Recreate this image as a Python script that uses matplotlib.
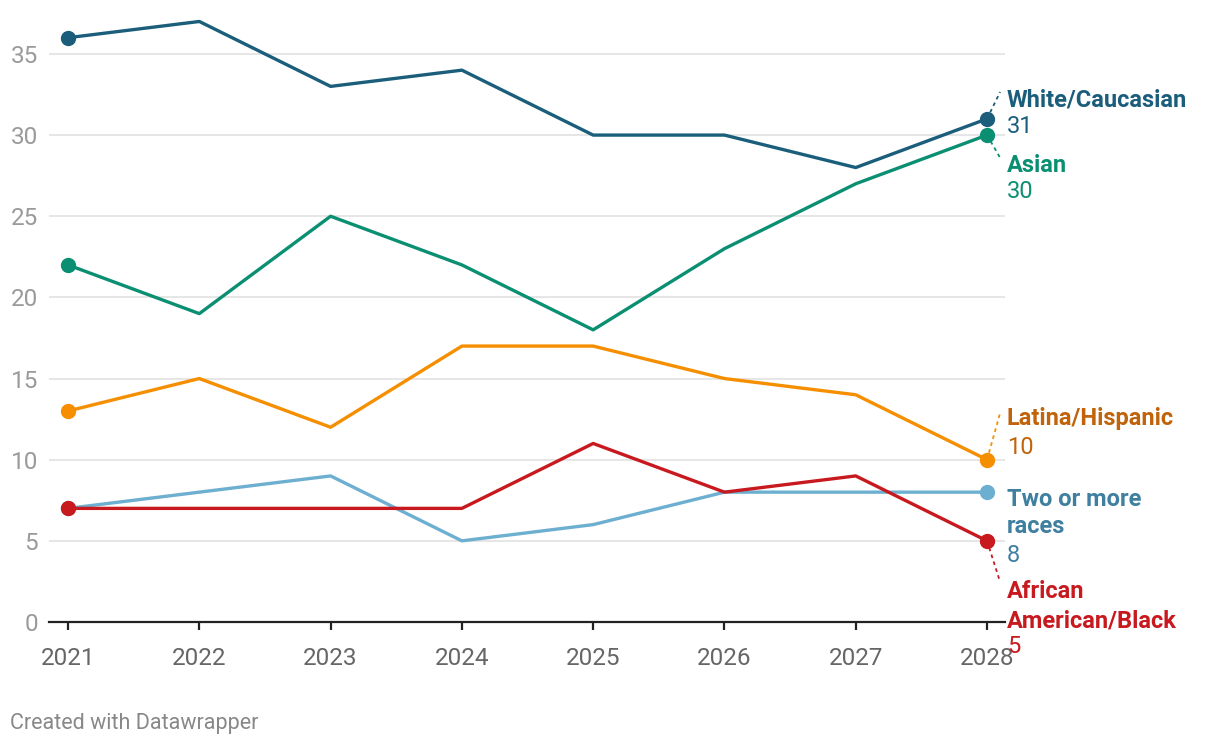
import matplotlib
matplotlib.use("Agg")
import matplotlib.pyplot as plt

plt.rcParams["font.family"] = ["Roboto", "DejaVu Sans"]

years = [2021, 2022, 2023, 2024, 2025, 2026, 2027, 2028]
white = [36, 37, 33, 34, 30, 30, 28, 31]
asian = [22, 19, 25, 22, 18, 23, 27, 30]
latina = [13, 15, 12, 17, 17, 15, 14, 10]
two_more = [7, 8, 9, 5, 6, 8, 8, 8]
african = [7, 7, 7, 7, 11, 8, 9, 5]
y_ticks = [0, 5, 10, 15, 20, 25, 30, 35]

series = [
    # values, line colour, label colour, label lines, baselines (name lines + value), connector end y
    (white, "#1b5e7b", "#1b5e7b", ["White/Caucasian"], [31.75, 30.13], 32.66),
    (asian, "#0b8f72", "#0b8f72", ["Asian"], [27.74, 26.12], 28.6),
    (latina, "#f58f00", "#c0630a", ["Latina/Hispanic"], [12.14, 10.35], 12.88),
    (two_more, "#6dafd0", "#3f7f9f", ["Two or more", "races"], [7.15, 5.48, 3.70], None),
    (african, "#c8191f", "#c8191f", ["African", "American/Black"], [1.48, -0.31, -1.91], 2.46),
]

fig = plt.figure(figsize=(12.2, 7.48), dpi=100)
ax = fig.add_axes([49 / 1220, 126 / 748, 956 / 1220, 614 / 748])
ax.set_xlim(2020.855, 2028.137)
ax.set_ylim(0, 37.83)

for v in y_ticks[1:]:
    ax.axhline(v, color="#e2e2e2", lw=1.2, zorder=0)

for vals, lc, tc, lines, ys, cy in series:
    ax.plot(years, vals, color=lc, lw=2.4, solid_capstyle="round", zorder=3)
    ax.plot([years[0], years[-1]], [vals[0], vals[-1]], "o", color=lc, ms=10, zorder=4)
    if cy is not None:
        ax.plot([years[-1], 2028.1], [vals[-1], cy], color=lc, lw=1.3,
                ls=(0, (2, 2)), zorder=2, clip_on=False)
    for line, y in zip(lines, ys):
        ax.text(2028.152, y, line, color=tc, fontsize=17, fontweight="bold",
                va="baseline", ha="left", clip_on=False)
    ax.text(2028.152, ys[-1], str(vals[-1]), color=tc, fontsize=17,
            va="baseline", ha="left", clip_on=False)

for s in ["top", "right", "left"]:
    ax.spines[s].set_visible(False)
ax.spines["bottom"].set_color("#222222")
ax.spines["bottom"].set_linewidth(1.6)
ax.set_xticks(years)
ax.set_xticklabels([str(y) for y in years])
ax.set_yticks(y_ticks)
ax.tick_params(axis="x", length=6, width=1.6, color="#222222", labelsize=17.5,
               labelcolor="#666666", pad=12)
ax.tick_params(axis="y", length=0, labelsize=17.5, labelcolor="#9a9a9a", pad=8)

fig.text(10 / 1220, 1 - 723 / 748, "Created with Datawrapper", fontsize=15.5,
         color="#888888", va="center", ha="left")

fig.savefig("out.png", dpi=100)
